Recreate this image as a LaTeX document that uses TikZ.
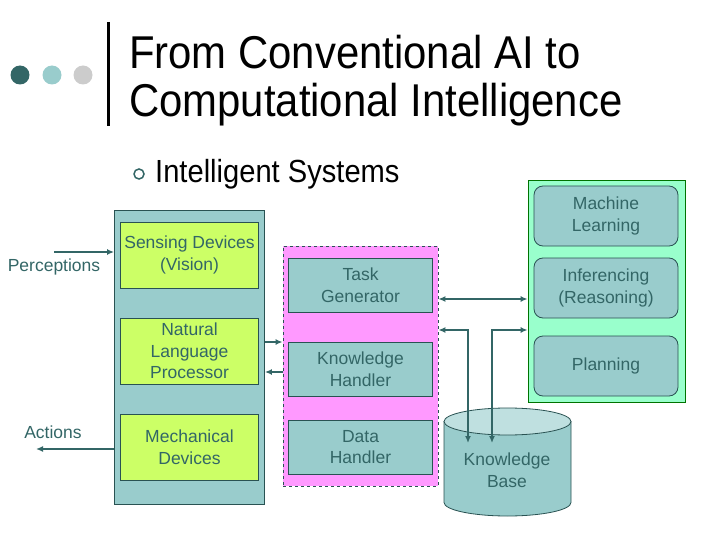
\documentclass[tikz,border=0pt]{standalone}
\usepackage{fontspec}
\setmainfont{Liberation Sans}
\newfontfamily\narrowfont[FakeStretch=0.91]{Liberation Sans}
\usetikzlibrary{positioning,calc,arrows.meta}
\definecolor{darkteal}{HTML}{336666}
\definecolor{tealfill}{HTML}{99CCCC}
\definecolor{tealtop}{HTML}{BFE0E0}
\definecolor{limefill}{HTML}{CCFF66}
\definecolor{pinkfill}{HTML}{FF99FF}
\definecolor{mintfill}{HTML}{99FFCC}
\definecolor{dotgray}{HTML}{CCCCCC}
\tikzset{
boxtext/.style={font=\fontsize{17.5}{21.5}\selectfont,text=darkteal,align=center,inner sep=0pt},
frame/.style={draw=darkteal!80!black,line width=0.8pt},
outerbox/.style={frame,fill=tealfill},
devbox/.style={frame,fill=limefill,boxtext,minimum width=138pt,minimum height=66pt},
handbox/.style={frame,fill=tealfill,boxtext,minimum width=144pt,minimum height=54pt},
ruleset/.style={frame,fill=tealfill,boxtext,rounded corners=9pt,minimum width=144pt,minimum height=60pt},
link/.style={draw=darkteal,line width=2.2pt,-{Latex[length=7pt,width=6pt]}},
twolink/.style={draw=darkteal,line width=2.2pt,{Latex[length=7pt,width=6pt]}-{Latex[length=7pt,width=6pt]}},
dot/.style={circle,inner sep=0pt,minimum size=19pt}
}
\begin{document}
\begin{tikzpicture}[x=1pt,y=-1pt]
\useasboundingbox (0,0) rectangle (720,540);
% title
\node[dot,fill=darkteal] (d1) at (20,75) {};
\node[dot,fill=tealfill] (d2) at (52,75) {};
\node[dot,fill=dotgray] (d3) at (83,75) {};
\draw[line width=3pt] (108,22) -- (108,126);
\node[anchor=north west,align=left,inner sep=0pt,font=\narrowfont\fontsize{46}{48}\selectfont] (title) at (129,35)
  {From Conventional AI to\\Computational Intelligence};
\node[circle,draw=darkteal,line width=1.5pt,minimum size=10pt,inner sep=0pt] (bul) at (139,174) {};
\node[anchor=west,inner sep=0pt,font=\narrowfont\fontsize{32}{36}\selectfont] (sub) at (155,174) {Intelligent Systems};

% interface column
\node[outerbox,minimum width=150pt,minimum height=294pt] (left) at (189.5,357.5) {};
\node[devbox] (sense) at (189.5,255) {Sensing Devices\\(Vision)};
\node[devbox] (nlp) at (189.5,351) {Natural\\Language\\Processor};
\node[devbox] (mech) at (189.5,447) {Mechanical\\Devices};

% control column
\node[frame,dashed,fill=pinkfill,minimum width=155pt,minimum height=240pt] (mid) at (360.5,366) {};
\node[handbox] (task) at (360.5,285) {Task\\Generator};
\node[handbox] (know) at (360.5,369) {Knowledge\\Handler};
\node[handbox] (data) at (360.5,447) {Data\\Handler};

% reasoning column
\node[draw=green!45!black,line width=0.8pt,fill=mintfill,minimum width=157pt,minimum height=222pt] (right) at (606.5,291) {};
\node[ruleset] (learn) at (606,216) {Machine\\Learning};
\node[ruleset] (infer) at (606,288) {Inferencing\\(Reasoning)};
\node[ruleset] (plan) at (606,366) {Planning};

% knowledge base
\draw[frame,fill=tealfill] (444,421.5) -- (444,502.5)
  arc[start angle=180,end angle=0,x radius=63.5,y radius=13.5] -- (571,421.5) -- cycle;
\draw[frame,fill=tealtop] (507.5,421.5) ellipse[x radius=63.5,y radius=13.5];
\node[boxtext] (kb) at (507,470) {Knowledge\\Base};
\coordinate (kbin) at (480,443);

% connectors
\node[boxtext] (perc) at (54,267) {Perceptions};
\node[boxtext] (act) at (53,432) {Actions};
\coordinate (pin) at (54,252);
\coordinate (pout) at (36,449);
\draw[link] (pin) -- (pin -| left.west);
\draw[link] (pout -| left.west) -- (pout);
\draw[link] (left.east |- 0,342) -- (mid.west |- 0,342);
\draw[link] (mid.west |- 0,372) -- (left.east |- 0,372);
\draw[twolink] (mid.east |- 0,299) -- (right.west |- 0,299);
\draw[twolink] (mid.east |- 0,330) -| (kbin -| 468,0);
\draw[twolink] (right.west |- 0,330) -| (kbin -| 492,0);
\end{tikzpicture}
\end{document}
